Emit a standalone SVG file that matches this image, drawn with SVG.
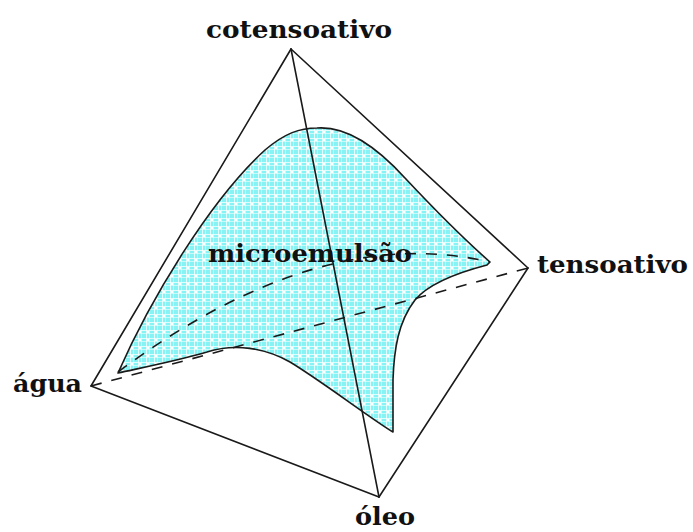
<svg xmlns="http://www.w3.org/2000/svg" width="693" height="532" viewBox="0 0 693 532">
<style>
.edge{fill:none;stroke:#1a1a1a;stroke-width:1.6;stroke-linecap:round}
.dash{fill:none;stroke:#1a1a1a;stroke-width:1.6;stroke-dasharray:11 10}
.outline{stroke:#1a1a1a;stroke-width:1.6;stroke-linejoin:round}
.lbl{font-family:"DejaVu Serif","Liberation Serif",serif;font-weight:bold;font-size:25px;fill:#111}
</style>
<defs>
<pattern id="dots" width="8" height="8" patternUnits="userSpaceOnUse">
<rect width="8" height="8" fill="#86f4f4"/>
<rect x="0" y="2" width="8" height="1" fill="#ffffff" opacity="0.75"/>
<rect x="0" y="5" width="8" height="1" fill="#ffffff" opacity="0.55"/>
<rect x="2" y="0" width="1" height="8" fill="#ffffff" opacity="0.75"/>
<rect x="5" y="0" width="1" height="8" fill="#ffffff" opacity="0.55"/>
<rect x="3" y="3" width="2" height="2" fill="#ffffff"/>
</pattern>
</defs>
<rect width="693" height="532" fill="#ffffff"/>
<g id="surface">
<path class="outline" fill="url(#dots)" d="M118,373 C150,300 210,200 265,150 C285,133 300,128 317,128 C345,126 375,145 405,178 C435,210 465,240 490,262 L487,265 C460,272 430,282 415,300 C398,322 394,350 393,380 L393,432 C370,418 320,380 290,362 C265,348 235,343 207,352 C180,360 150,366 118,373 Z"/>
</g>
<g id="connectors">
<path class="dash" d="M118,372 Q320,222 490,262"/>
<line class="dash" x1="91" y1="386" x2="528" y2="268"/>
<line class="edge" x1="291" y1="49" x2="91" y2="386"/>
<line class="edge" x1="291" y1="49" x2="528" y2="268"/>
<line class="edge" x1="91" y1="386" x2="379" y2="497"/>
<line class="edge" x1="528" y1="268" x2="379" y2="497"/>
<line class="edge" x1="291" y1="49" x2="379" y2="497"/>
</g>
<g id="cotensoativo"><text class="lbl" x="206" y="38" textLength="186" lengthAdjust="spacingAndGlyphs">cotensoativo</text></g>
<g id="tensoativo"><text class="lbl" x="537" y="273" textLength="151" lengthAdjust="spacingAndGlyphs">tensoativo</text></g>
<g id="agua"><text class="lbl" x="13" y="392" textLength="69" lengthAdjust="spacingAndGlyphs">água</text></g>
<g id="oleo"><text class="lbl" x="355" y="525" textLength="60" lengthAdjust="spacingAndGlyphs">óleo</text></g>
<g id="microemulsao"><text class="lbl" x="208" y="262" textLength="204" lengthAdjust="spacingAndGlyphs">microemulsão</text></g>
</svg>
